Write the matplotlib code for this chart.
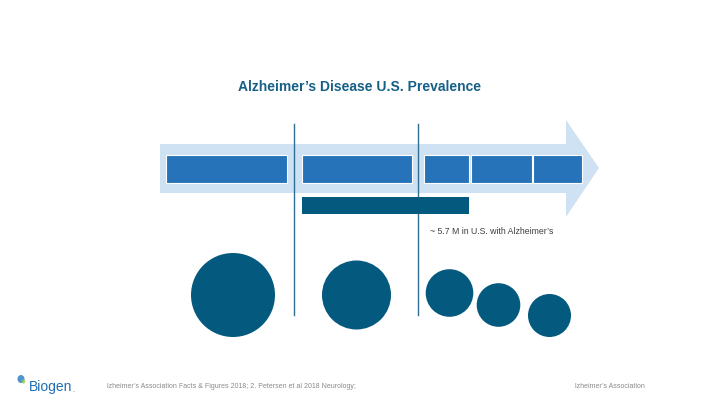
import matplotlib.pyplot as plt
from matplotlib.patches import Rectangle, Circle, Polygon, Ellipse

plt.rcParams['font.family'] = ['Liberation Sans', 'DejaVu Sans']

# slide content (pixel units of the 720x405 slide)
title = "Alzheimer\u2019s Disease U.S. Prevalence"
note = "~ 5.7 M in U.S. with Alzheimer\u2019s"
footer_left = "lzheimer\u2019s Association Facts & Figures 2018; 2. Petersen et al 2018 Neurology;"
footer_right = "lzheimer\u2019s Association"

# timeline segments (start, end)
seg_start = [166, 302, 424, 471, 533]
seg_end = [287, 412, 469, 532, 582]

# dark bar span
bar_start = 302
bar_end = 469

# divider lines
divider_x = [294, 418]

# prevalence circles
circle_x = [233, 356.5, 449.5, 498.5, 549.5]
circle_y = [295, 295, 293, 305, 315.5]
circle_r = [42, 34.5, 23.8, 21.8, 21.5]

light_blue = '#cfe2f4'
mid_blue = '#2673ba'
dark_teal = '#045a7e'
title_col = '#165f87'

fig = plt.figure(figsize=(7.2, 4.05), dpi=100)
ax = fig.add_axes([0, 0, 1, 1])
ax.set_xlim(0, 720)
ax.set_ylim(405, 0)
ax.axis('off')

# big arrow
arrow = Polygon([(160, 144), (566, 144), (566, 120), (599, 168),
                 (566, 217), (566, 193), (160, 193)],
                closed=True, facecolor=light_blue, edgecolor='none', zorder=1)
ax.add_patch(arrow)

for x in divider_x:
    ax.plot([x, x], [124, 315], color='#2f6f96', linewidth=1.0, zorder=2)

for s, e in zip(seg_start, seg_end):
    ax.add_patch(Rectangle((s, 155), e - s, 28, facecolor=mid_blue,
                           edgecolor='white', linewidth=0.8, zorder=3))

ax.add_patch(Rectangle((bar_start, 197), bar_end - bar_start, 17,
                       facecolor=dark_teal, edgecolor='none', zorder=3))

for cx, cy, r in zip(circle_x, circle_y, circle_r):
    ax.add_patch(Circle((cx, cy), r, facecolor=dark_teal, edgecolor='none', zorder=3))

ax.text(360, 87, title, ha='center', va='center', fontsize=10,
        fontweight='bold', color=title_col)
ax.text(430, 232, note, ha='left', va='center', fontsize=6.3, color='#404040')

# footer
ax.text(107, 386, footer_left, ha='left', va='center', fontsize=5.0, color='#8a8a8a')
ax.text(575, 386, footer_right, ha='left', va='center', fontsize=5.0, color='#8a8a8a')

# logo
ax.add_patch(Ellipse((21, 379), 7, 8, facecolor='#4f93d0', edgecolor='none'))
ax.add_patch(Ellipse((23.5, 381.5), 4, 4.5, facecolor='#9acd4a', edgecolor='none', alpha=0.7))
ax.text(29, 387, "Biogen", ha='left', va='center', fontsize=10,
        color='#1f6db5', family=['Liberation Sans Narrow', 'Liberation Sans'])
ax.text(72, 390, ".", ha='left', va='center', fontsize=5, color='#1f6db5')

fig.savefig('out.png', dpi=100)
